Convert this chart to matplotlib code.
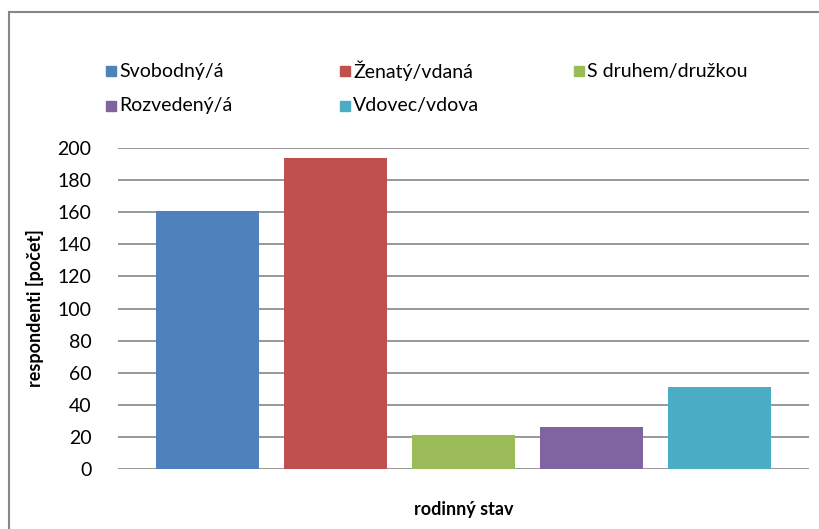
import matplotlib.pyplot as plt
from matplotlib.patches import Rectangle

# počty respondentů podle rodinného stavu
categories = ["Svobodný/á", "Ženatý/vdaná", "S druhem/družkou", "Rozvedený/á", "Vdovec/vdova"]
counts = [161, 194, 21, 26, 51]
colors = ["#4F81BD", "#C0504D", "#9BBB59", "#8064A2", "#4BACC6"]
yticks = [0, 20, 40, 60, 80, 100, 120, 140, 160, 180, 200]

plt.rcParams["font.family"] = ["Lato", "DejaVu Sans"]

W, H = 819, 529
fig = plt.figure(figsize=(W / 100, H / 100), dpi=100)

# rámeček grafu (pravá a dolní hrana leží mimo obrázek)
fig.patches.append(Rectangle((9 / W, -0.1), 1.2, 1.1 - 12 / H, transform=fig.transFigure,
                             fill=False, edgecolor="#868686", linewidth=1.5))

left, right, top, bottom = 118, 809, 148, 469
ax = fig.add_axes([left / W, 1 - bottom / H, (right - left) / W, (bottom - top) / H])

x = range(len(categories))
ax.bar(x, counts, width=0.8, color=colors, zorder=3)

ax.set_xlim(-0.7, len(categories) - 0.3)
ax.set_ylim(0, 200)
ax.set_yticks(yticks)
ax.set_xticks([])
ax.yaxis.grid(True, color="#868686", linewidth=1.2, zorder=0)
for s in ax.spines.values():
    s.set_visible(False)
ax.tick_params(axis="y", length=0, pad=19, labelsize=14, labelcolor="#000000")

ax.set_ylabel("respondenti [počet]", fontsize=13, fontweight="bold", labelpad=10)
ax.set_xlabel("rodinný stav", fontsize=13, fontweight="bold", labelpad=23)

# legenda ve dvou řádcích po třech položkách
col_x = [106, 340, 574]
row_y = [71, 106]
for i, (name, c) in enumerate(zip(categories, colors)):
    px, py = col_x[i % 3], row_y[i // 3]
    fig.patches.append(Rectangle((px / W, 1 - (py + 5) / H), 10 / W, 10 / H,
                                 transform=fig.transFigure, color=c))
    fig.text((px + 13) / W, 1 - py / H, name, fontsize=14, va="center", ha="left")

fig.savefig("out.png", dpi=100)
